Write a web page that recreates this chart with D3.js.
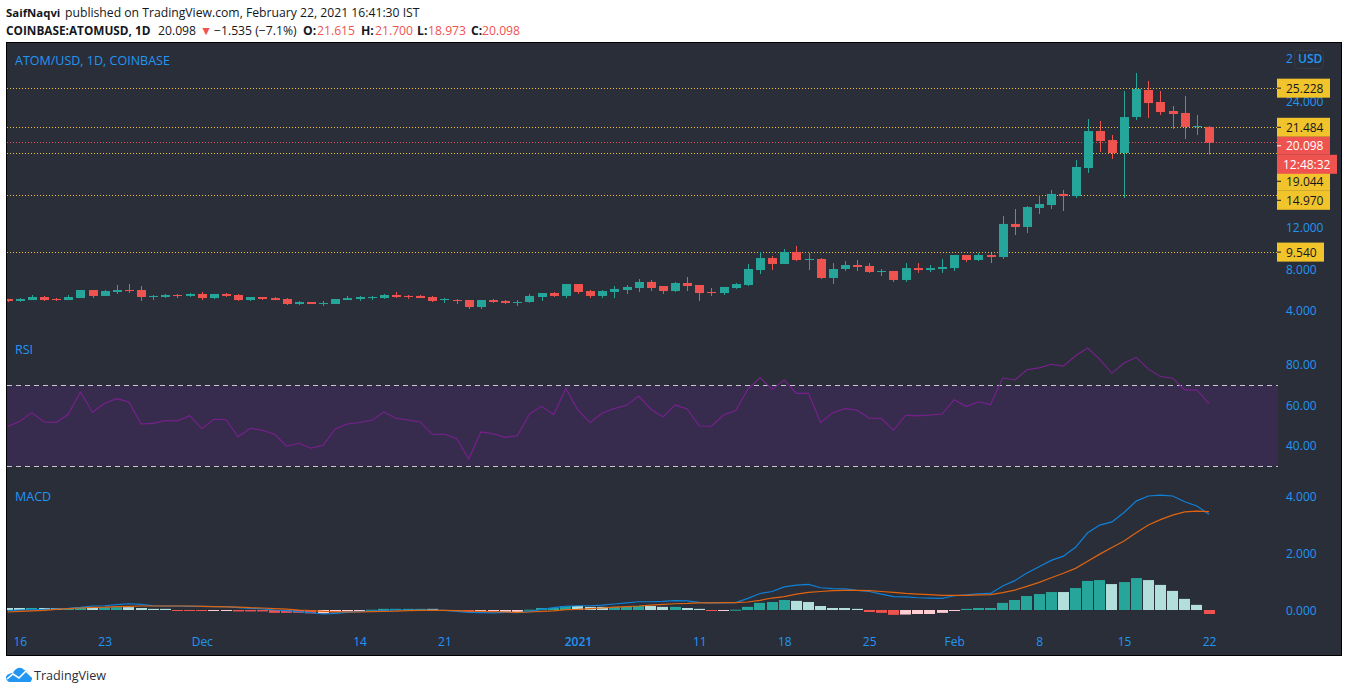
<!DOCTYPE html>
<html>
<head>
<meta charset="utf-8">
<title>ATOM/USD</title>
<script src="https://cdn.jsdelivr.net/npm/d3@7"></script>
<style>
    body { margin: 0; background: #fff; }
    svg { display: block; }
    text { font-family: "Open Sans", sans-serif; }
    .axis text { fill: #2196f3; font-size: 12px; }
    .axis .domain, .axis line { display: none; }
    .paneTitle { fill: #2196f3; font-size: 12.5px; }
</style>
</head>
<body>
<div id="chart"></div>
<script>
// Daily candles, first one is 15 Nov 2020, last one 22 Feb 2021
const firstDay = new Date(Date.UTC(2020, 10, 15))

const opens = [5.15,4.96,5.05,5.34,5.15,5.05,5.24,6.01,5.44,5.82,6.01,6.01,5.34,5.34,5.53,5.44,5.63,5.24,5.63,5.53,
    5.05,5.34,5.24,5.15,4.67,4.86,4.74,4.67,5.05,5.15,5.24,5.24,5.53,5.44,5.44,5.34,5.05,5.05,5.05,4.38,
    5.05,4.96,4.80,4.86,5.34,5.72,5.44,6.58,5.91,5.44,5.82,6.01,6.20,6.78,6.39,5.91,6.68,6.49,5.82,5.72,
    6.20,6.49,7.92,9.07,8.50,9.65,8.88,8.98,7.16,8.02,8.40,8.31,7.73,7.83,6.97,8.11,7.92,8.02,8.11,9.36,
    8.88,9.36,9.17,12.33,12.04,13.86,14.14,15.20,15.00,17.68,21.22,20.36,19.12,22.56,25.15,24.00,23.14,22.95,21.61,21.615]
const highs = [5.15,5.24,5.53,5.44,5.24,5.53,6.01,6.01,6.01,6.49,6.58,6.39,5.53,5.63,5.63,5.72,5.82,5.63,5.72,5.63,
    5.34,5.34,5.34,5.24,4.96,4.86,4.96,5.15,5.44,5.44,5.44,5.63,5.82,5.53,5.53,5.44,5.24,5.15,5.05,5.05,
    5.15,5.05,5.05,5.63,5.72,5.82,6.58,6.58,6.01,6.01,6.39,6.49,7.06,6.97,6.39,6.78,7.25,6.49,6.20,6.30,
    6.68,8.50,9.65,9.26,9.93,10.22,9.55,9.07,8.59,8.78,8.88,8.59,8.02,7.83,8.59,8.59,8.40,8.98,9.36,9.36,
    9.55,9.55,13.09,13.76,14.05,15.10,15.58,15.58,18.45,22.37,22.18,20.84,25.05,26.78,26.01,25.05,23.62,24.57,22.76,21.70]
const lows = [4.86,4.89,5.05,4.96,4.96,5.05,5.24,5.24,5.44,5.63,5.72,4.96,5.05,5.24,5.24,5.34,5.05,5.15,5.34,4.96,
    4.96,5.05,5.05,4.57,4.57,4.67,4.48,4.67,5.05,4.96,5.05,5.15,5.24,5.15,5.24,4.86,4.77,4.67,4.19,4.19,
    4.77,4.67,4.48,4.77,4.96,5.34,5.24,5.63,5.24,5.24,5.24,5.63,5.82,5.91,5.63,5.82,5.91,4.96,5.44,5.53,
    6.11,6.39,7.54,7.92,8.50,8.78,7.92,7.06,6.58,7.83,7.83,7.64,7.35,6.78,6.78,7.64,7.73,7.64,7.83,8.69,
    8.78,8.59,8.98,11.27,11.46,13.28,13.76,13.57,14.81,17.21,19.22,18.55,14.81,22.28,22.47,22.76,21.42,20.46,20.84,18.973]
const closes = [4.96,5.15,5.34,5.05,5.05,5.34,6.01,5.44,5.91,6.01,5.91,5.34,5.44,5.53,5.47,5.63,5.24,5.63,5.44,5.05,
    5.34,5.15,5.05,4.67,4.86,4.67,4.77,5.15,5.24,5.34,5.34,5.53,5.34,5.34,5.24,4.96,5.15,4.96,4.38,5.05,
    4.86,4.77,4.86,5.44,5.72,5.44,6.58,5.82,5.44,5.91,6.11,6.30,6.78,6.20,5.91,6.68,6.39,5.72,5.72,6.30,
    6.58,8.02,9.07,8.50,9.65,8.88,8.98,7.16,8.02,8.40,8.21,7.73,7.83,6.97,8.11,7.92,8.11,8.21,9.36,8.88,
    9.36,9.17,12.33,12.04,13.95,14.24,15.20,15.00,17.78,21.22,20.27,19.12,22.56,25.24,23.90,23.04,22.85,21.61,21.70,20.098]

const rsi = [49.6,52.2,56.5,51.9,51.7,55.7,66.7,56.7,61.1,63.4,61.8,50.9,51.2,52.6,52.4,55,48.6,53.2,53,44.6,
    48.8,47.8,45.8,39.9,41.4,38.9,40.4,48.4,50.9,51.6,52.7,56.8,53.7,52.9,51.9,45.8,45.8,43.7,33.6,47,
    46.1,44.3,45.1,55.8,59.6,55.5,68.4,57.7,51.6,56.3,58.5,60.1,64.7,58.3,54.4,60.3,58.3,49.9,49.8,55.3,
    57.5,68,73.8,68,72.6,66,66,51.6,56.5,58.5,57.7,53.7,53.7,47.8,55.2,54.9,55.3,55.8,62.9,59.5,
    61.9,60.5,73.6,72.6,77.7,78.6,80.4,79.5,84.6,88.4,82.8,75.9,81,83.8,78,74.3,73.5,67.7,67.7,61.1]

const macdLine = [-.02,0,.01,.02,.04,.06,.09,.14,.15,.19,.22,.2,.15,.14,.14,.13,.13,.12,.12,.08,
    .06,.04,0,-.02,-.06,-.09,-.14,-.12,-.08,-.06,-.04,-.01,0,0,0,0,-.01,-.05,-.08,-.09,
    -.1,-.08,-.09,-.06,.02,.08,.13,.15,.15,.17,.21,.25,.29,.29,.3,.33,.32,.27,.25,.25,
    .26,.41,.58,.65,.81,.87,.9,.78,.75,.74,.69,.65,.56,.47,.46,.43,.42,.41,.5,.53,
    .57,.58,.84,1.03,1.3,1.52,1.74,1.89,2.2,2.71,2.98,3.09,3.42,3.82,4,4.03,4,3.8,3.65,3.36]
const signalLine = [-.07,-.05,-.03,-.01,.02,.05,.07,.09,.1,.12,.13,.14,.14,.14,.14,.14,.13,.12,.11,.1,
    .08,.07,.05,.03,0,-.02,-.05,-.06,-.07,-.07,-.06,-.05,-.04,-.02,-.01,-.01,-.01,-.02,-.04,-.05,
    -.06,-.07,-.08,-.07,-.05,-.03,.01,.02,.05,.07,.1,.12,.14,.17,.2,.22,.23,.25,.25,.26,
    .26,.28,.34,.42,.47,.56,.62,.65,.68,.69,.69,.68,.65,.62,.58,.56,.54,.51,.51,.51,
    .53,.54,.61,.7,.83,.97,1.13,1.29,1.46,1.71,1.96,2.19,2.42,2.71,2.98,3.17,3.33,3.44,3.47,3.45]
const histValues = [.07,.07,.07,.07,.07,.07,.1,.1,.1,.1,.1,.07,.04,.04,-.02,-.02,-.02,-.02,-.02,-.05,
    -.05,-.05,-.1,-.1,-.1,-.12,-.12,-.08,-.05,-.05,.01,.04,.04,.04,.04,.04,-.01,-.02,-.06,-.03,
    -.03,-.08,-.08,.01,.07,.07,.14,.14,.11,.11,.11,.11,.14,.14,.11,.11,.07,.04,-.02,-.02,
    .01,.11,.25,.28,.35,.32,.28,.14,.07,.07,.04,-.07,-.1,-.17,-.16,-.14,-.14,-.1,-.02,.04,
    .07,.07,.25,.35,.49,.56,.63,.63,.77,1.02,1.05,.91,.98,1.12,1.05,.88,.67,.39,.18,-.14]
// 1 = bar growing away from zero (full colour), 0 = shrinking (pale colour)
const histGrowing = [0,0,1,0,0,1,1,0,1,1,0,0,0,0,1,1,1,0,0,1,
    1,1,1,1,1,1,0,0,0,0,1,1,1,1,1,0,1,1,1,0,
    0,0,0,1,1,1,1,0,0,0,1,1,1,0,0,1,0,0,1,0,
    1,1,1,1,1,0,0,0,0,0,0,1,1,1,0,0,0,0,0,1,
    1,1,1,1,1,1,1,0,1,1,1,0,1,1,0,0,0,0,0,1]

// Horizontal levels on the price pane
const yellowLevels = [25.228, 21.484, 19.044, 14.970, 9.540]
const lastPrice = 20.098
const countdown = '12:48:32'

const priceTicks = [24, 12, 8, 4]
const rsiTicks = [80, 60, 40]
const rsiBand = [70, 30]
const macdTicks = [4, 2, 0]
const timeTicks = [[2020, 10, 16], [2020, 10, 23], [2020, 11, 1], [2020, 11, 14], [2020, 11, 21], [2021, 0, 1], [2021, 0, 11],
    [2021, 0, 18], [2021, 0, 25], [2021, 1, 1], [2021, 1, 8], [2021, 1, 15], [2021, 1, 22]].map(d => new Date(Date.UTC(...d)))
const timeLabels = ['16', '23', 'Dec', '14', '21', '2021', '11', '18', '25', 'Feb', '8', '15', '22']

const bg = '#2a2e39', up = '#26a69a', down = '#ef5350', upPale = '#b2dfdb', downPale = '#ffcdd2', yellow = '#f2c42c'

const days = closes.map((d, i) => d3.utcDay.offset(firstDay, i))
const paneLeft = 7, paneRight = 1342, paneTop = 43, paneBottom = 656, scaleLeft = 1278

const svg = d3.select('#chart').append('svg').attr('width', 1348).attr('height', 693)

const x = d3.scaleUtc().domain([days[0], days[days.length - 1]]).range([7.6, 1209])
const yPrice = d3.scaleLinear().domain([4, 24]).range([311, 102])
const yRsi = d3.scaleLinear().domain([30, 70]).range([466.3, 385.3])
const yMacd = d3.scaleLinear().domain([0, 4]).range([610, 496])

// Header, pieces placed one by one because the spacing is uneven
const head1 = svg.append('text').attr('x', 6).attr('y', 17).style('font-size', '12.2px').attr('fill', '#131722')
head1.append('tspan').style('font-size', '11.4px').style('font-weight', 700).text('SaifNaqvi')
head1.append('tspan').attr('x', 65).text('published on TradingView.com, February 22, 2021 16:41:30 IST')

const head2 = svg.append('text').attr('y', 35).style('font-size', '12.2px').attr('fill', '#131722')
const headPieces = [
    [6, 'COINBASE:ATOMUSD, 1D', 700, null],
    [158, '20.098', 400, null],
    [200, '▼', 400, down],
    [214, '−1.535 (−7.1%)', 400, null],
    [303, 'O:', 700, null],
    [317, '21.615', 400, down],
    [361, 'H:', 700, null],
    [375, '21.700', 400, down],
    [417, 'L:', 700, null],
    [428, '18.973', 400, down],
    [471, 'C:', 700, null],
    [482, '20.098', 400, down]
]
headPieces.forEach(d => {
    head2.append('tspan').attr('x', d[0]).style('font-weight', d[2]).attr('fill', d[3])
        .style('font-size', d[0] === 6 ? '11.8px' : null).text(d[1])
})

// Panel background
svg.append('rect')
    .attr('x', paneLeft - 0.5).attr('y', paneTop - 0.5)
    .attr('width', paneRight - paneLeft).attr('height', paneBottom - paneTop)
    .attr('fill', bg).attr('stroke', '#000')

svg.append('clipPath').attr('id', 'plot').append('rect')
    .attr('x', paneLeft).attr('y', paneTop).attr('width', scaleLeft - paneLeft).attr('height', paneBottom - paneTop)
const plot = svg.append('g').attr('clip-path', 'url(#plot)')

// RSI pane
plot.append('rect')
    .attr('x', paneLeft).attr('width', scaleLeft - paneLeft)
    .attr('y', yRsi(rsiBand[0])).attr('height', yRsi(rsiBand[1]) - yRsi(rsiBand[0]))
    .attr('fill', '#382c4e')
plot.selectAll('.band').data(rsiBand).enter().append('line')
    .attr('class', 'band')
    .attr('x1', paneLeft).attr('x2', scaleLeft)
    .attr('y1', d => Math.floor(yRsi(d)) + 0.5).attr('y2', d => Math.floor(yRsi(d)) + 0.5)
    .attr('stroke', '#c9c6cf').attr('stroke-dasharray', '5 4')
plot.append('path')
    .attr('d', d3.line().x((d, i) => x(days[i])).y(d => yRsi(d))(rsi))
    .attr('fill', 'none').attr('stroke', '#7b1f90').attr('stroke-width', 1.1)

// MACD pane
const barWidth = 11
plot.selectAll('.hist').data(histValues).enter().append('rect')
    .attr('class', 'hist')
    .attr('x', (d, i) => Math.round(x(days[i]) - barWidth / 2))
    .attr('width', barWidth)
    .attr('y', d => Math.min(yMacd(d), yMacd(0)))
    .attr('height', d => Math.max(1, Math.abs(yMacd(d) - yMacd(0))))
    .attr('fill', (d, i) => d >= 0 ? (histGrowing[i] ? up : upPale) : (histGrowing[i] ? down : downPale))
const macdPath = d3.line().x((d, i) => x(days[i])).y(d => yMacd(d))
plot.append('path').attr('d', macdPath(macdLine)).attr('fill', 'none').attr('stroke', '#0f80d8').attr('stroke-width', 1.2)
plot.append('path').attr('d', macdPath(signalLine)).attr('fill', 'none').attr('stroke', '#e0640f').attr('stroke-width', 1.2)

// Levels, the line snaps to the pixel row above the exact value
const levelY = d => Math.round(yPrice(d) - 1) + 0.5
plot.selectAll('.level').data(yellowLevels).enter().append('line')
    .attr('class', 'level')
    .attr('x1', paneLeft).attr('x2', scaleLeft)
    .attr('y1', levelY).attr('y2', levelY)
    .attr('stroke', yellow).attr('stroke-dasharray', '1 2')
plot.append('line')
    .attr('x1', paneLeft).attr('x2', scaleLeft)
    .attr('y1', levelY(lastPrice)).attr('y2', levelY(lastPrice))
    .attr('stroke', down).attr('stroke-dasharray', '1 2')

// Candles
const candleWidth = 9
const candle = plot.selectAll('.candle').data(closes).enter().append('g').attr('class', 'candle')
const candleColor = (d, i) => d >= opens[i] ? up : down
candle.append('line')
    .attr('x1', (d, i) => Math.round(x(days[i])) + 0.5).attr('x2', (d, i) => Math.round(x(days[i])) + 0.5)
    .attr('y1', (d, i) => yPrice(highs[i])).attr('y2', (d, i) => yPrice(lows[i]))
    .attr('stroke', candleColor)
candle.append('rect')
    .attr('x', (d, i) => Math.round(x(days[i])) + 0.5 - candleWidth / 2)
    .attr('width', candleWidth)
    .attr('y', (d, i) => yPrice(Math.max(d, opens[i])))
    .attr('height', (d, i) => Math.max(1, Math.abs(yPrice(d) - yPrice(opens[i]))))
    .attr('fill', candleColor)

// Axes
const axisAt = 1286
svg.append('g').attr('class', 'axis').attr('transform', `translate(${axisAt}, 0)`)
    .call(d3.axisRight(yPrice).tickValues(priceTicks).tickSize(0).tickPadding(0).tickFormat(d3.format('.3f')))
svg.append('g').attr('class', 'axis').attr('transform', `translate(${axisAt}, 0)`)
    .call(d3.axisRight(yRsi).tickValues(rsiTicks).tickSize(0).tickPadding(0).tickFormat(d3.format('.2f')))
svg.append('g').attr('class', 'axis').attr('transform', `translate(${axisAt}, 0.5)`)
    .call(d3.axisRight(yMacd).tickValues(macdTicks).tickSize(0).tickPadding(0).tickFormat(d3.format('.3f')))
svg.append('g').attr('class', 'axis').attr('transform', 'translate(0, 637)')
    .call(d3.axisBottom(x).tickValues(timeTicks).tickSize(0).tickPadding(0).tickFormat((d, i) => timeLabels[i]))
    .selectAll('text').style('font-weight', (d, i) => timeLabels[i] === '2021' ? 600 : 400)

// Top of the price scale, partly hidden tick and the currency button
svg.append('rect')
    .attr('x', 1294.5).attr('y', 50.5).attr('width', 29).attr('height', 18).attr('rx', 4)
    .attr('fill', 'none').attr('stroke', '#363a45')
svg.append('text').attr('x', axisAt).attr('y', 63).attr('fill', '#2196f3').style('font-size', '12px').text('2')
svg.append('text').attr('x', 1298).attr('y', 63).attr('fill', '#2196f3').style('font-size', '12px').style('font-weight', 600).text('USD')

// Price labels: pushed down when they would overlap the one above
const labels = yellowLevels.map(v => ({ value: v, text: v.toFixed(3), fill: yellow, ink: '#131722', w: v < 10 ? 47 : 53, h: 19 }))
labels.push({ value: lastPrice, text: lastPrice.toFixed(3), fill: down, ink: '#fff', w: 53, h: 18 })
labels.sort((a, b) => b.value - a.value)
labels.splice(labels.findIndex(d => d.value === lastPrice) + 1, 0,
    { value: lastPrice, text: countdown, fill: down, ink: '#fff', w: 60, h: 19, timer: true })
let lastBottom = 0
labels.forEach(d => {
    d.top = Math.max(yPrice(d.value) - 1 - d.h / 2, lastBottom)
    lastBottom = d.top + d.h - (d.timer ? 2 : 0)
})
// countdown is painted on top of its neighbours
const labelOrder = labels.filter(d => !d.timer).concat(labels.filter(d => d.timer))
const tag = svg.selectAll('.tag').data(labelOrder).enter().append('g').attr('class', 'tag')
tag.append('rect')
    .attr('x', scaleLeft - 1).attr('y', d => d.top)
    .attr('width', d => d.w).attr('height', d => d.h)
    .attr('fill', d => d.fill)
tag.filter(d => !d.timer).append('line')
    .attr('x1', scaleLeft - 1).attr('x2', scaleLeft + 3)
    .attr('y1', d => d.top + d.h / 2).attr('y2', d => d.top + d.h / 2)
    .attr('stroke', d => d.ink)
tag.append('text')
    .attr('x', d => d.timer ? scaleLeft + 5 : axisAt)
    .attr('y', d => d.top + d.h / 2 + 4.5)
    .attr('fill', d => d.ink)
    .style('font-size', '12px')
    .text(d => d.text)

// Pane titles
svg.append('text').attr('class', 'paneTitle').attr('x', 15).attr('y', 65).text('ATOM/USD, 1D, COINBASE')
svg.append('text').attr('class', 'paneTitle').attr('x', 15).attr('y', 354).text('RSI')
svg.append('text').attr('class', 'paneTitle').attr('x', 15).attr('y', 501).text('MACD')

// TradingView logo
const logo = svg.append('g').attr('transform', 'translate(6, 667)')
logo.append('path')
    .attr('d', 'M3 15 C-1 13 -1 8 3 7 C5 6 6 6 7 6 C9 1 15 -1 18 3 C21 3 23 5 23 7 C26 8 27 12 25 14 C25 15 24 15 23 15 Z')
    .attr('fill', '#2196f3')
logo.append('path')
    .attr('d', 'M1 12 L7 7 L13 11 L20 4 L26 10')
    .attr('fill', 'none').attr('stroke', '#fff').attr('stroke-width', 1.6)
svg.append('text').attr('x', 34).attr('y', 680).attr('fill', '#2a2e39').style('font-size', '12.6px').text('TradingView')
</script>
</body>
</html>
